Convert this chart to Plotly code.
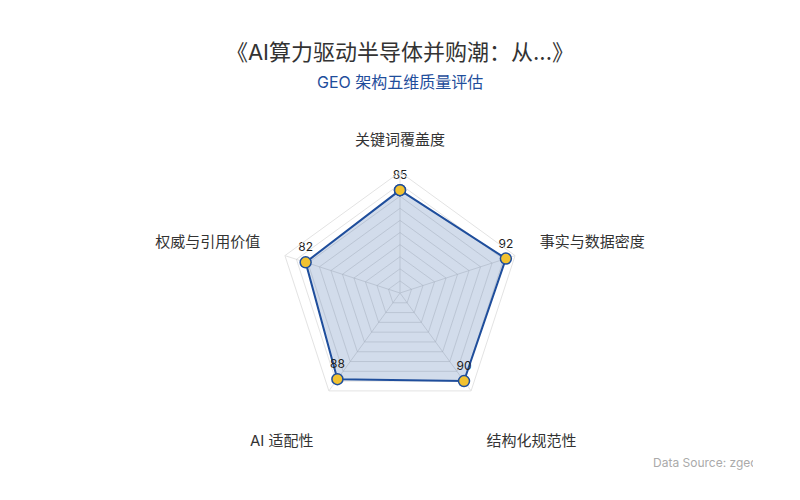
import plotly.graph_objects as go

# five quality dimensions and their scores
dimensions = ["关键词覆盖度", "事实与数据密度", "结构化规范性", "AI 适配性", "权威与引用价值"]
scores = [85, 92, 90, 88, 82]

title = "《AI算力驱动半导体并购潮：从...》"
subtitle = "GEO 架构五维质量评估"
source = "Data Source: zgeo.cn"

FONT = "Inter, Noto Sans CJK SC, sans-serif"
BLUE = "#1f4e9c"
label_pos = ["top center", "top right", "bottom right", "bottom left", "top left"]

# polar centre / radii in figure pixels (plot area: 0..800 x 100..440)
CX, CY, R_WEB = 392, 285, 121
LX, LY, R_LABEL = 392, 288, 147


def dom(cx, cy, r):
    return dict(x=[(cx - r) / 800, (cx + r) / 800],
                y=[(440 - cy - r) / 340, (440 - cy + r) / 340])


def py(px):
    return (440 - px) / 340


fig = go.Figure()

# close the polygon by repeating the first point
fig.add_trace(go.Scatterpolar(
    r=scores + scores[:1],
    theta=dimensions + dimensions[:1],
    mode="lines+markers+text",
    text=[str(s) for s in scores] + [""],
    textposition="top center",
    textfont=dict(family=FONT, size=12, color="#222"),
    line=dict(color=BLUE, width=2),
    marker=dict(size=11, color="#f2c230", line=dict(color=BLUE, width=1.5)),
    fill="toself",
    fillcolor="rgba(31,78,156,0.2)",
    hoverinfo="text+theta",
    showlegend=False,
))

# dimension names on an invisible, slightly larger polar; the lower names
# get a blank first line so they sit further away from the web
names = [("<br>" + d if p.startswith("bottom") else d) for d, p in zip(dimensions, label_pos)]
fig.add_trace(go.Scatterpolar(
    r=[100] * len(dimensions),
    theta=dimensions,
    mode="text",
    text=names,
    textposition=label_pos,
    textfont=dict(family=FONT, size=15, color="#333"),
    cliponaxis=False,
    hoverinfo="skip",
    showlegend=False,
    subplot="polar2",
))

hidden = dict(showgrid=False, showline=False, showticklabels=False, ticks="")

fig.update_layout(
    width=800, height=500,
    paper_bgcolor="white",
    margin=dict(l=0, r=0, t=100, b=60),
    font=dict(family=FONT, color="#333"),
    title=dict(text=title, x=0.49, xanchor="center", y=0.912, yanchor="middle",
               font=dict(size=22, color="#333", family=FONT)),
    polar=dict(
        domain=dom(CX, CY, R_WEB),
        bgcolor="white",
        gridshape="linear",
        radialaxis=dict(range=[0, 100], dtick=10, showticklabels=False,
                        ticks="", showline=False,
                        gridcolor="rgba(200,200,200,0.5)", gridwidth=1),
        angularaxis=dict(direction="clockwise", rotation=90,
                         showticklabels=False, ticks="",
                         linecolor="#e3e3e3", gridcolor="#e3e3e3"),
    ),
    polar2=dict(
        domain=dom(LX, LY, R_LABEL),
        bgcolor="rgba(0,0,0,0)",
        gridshape="linear",
        radialaxis=dict(range=[0, 100], **hidden),
        angularaxis=dict(direction="clockwise", rotation=90, **hidden),
    ),
    annotations=[
        dict(text=subtitle, x=0.49, y=py(74), xref="paper", yref="paper",
             xanchor="center", yanchor="middle", showarrow=False,
             font=dict(size=16, color=BLUE, family=FONT)),
        dict(text=source, x=643 / 800, y=py(454), xref="paper", yref="paper",
             xanchor="left", yanchor="middle", showarrow=False, width=100, align="left",
             font=dict(size=12, color="#aaaaaa", family=FONT)),
    ],
)

fig.write_html("out.html")
